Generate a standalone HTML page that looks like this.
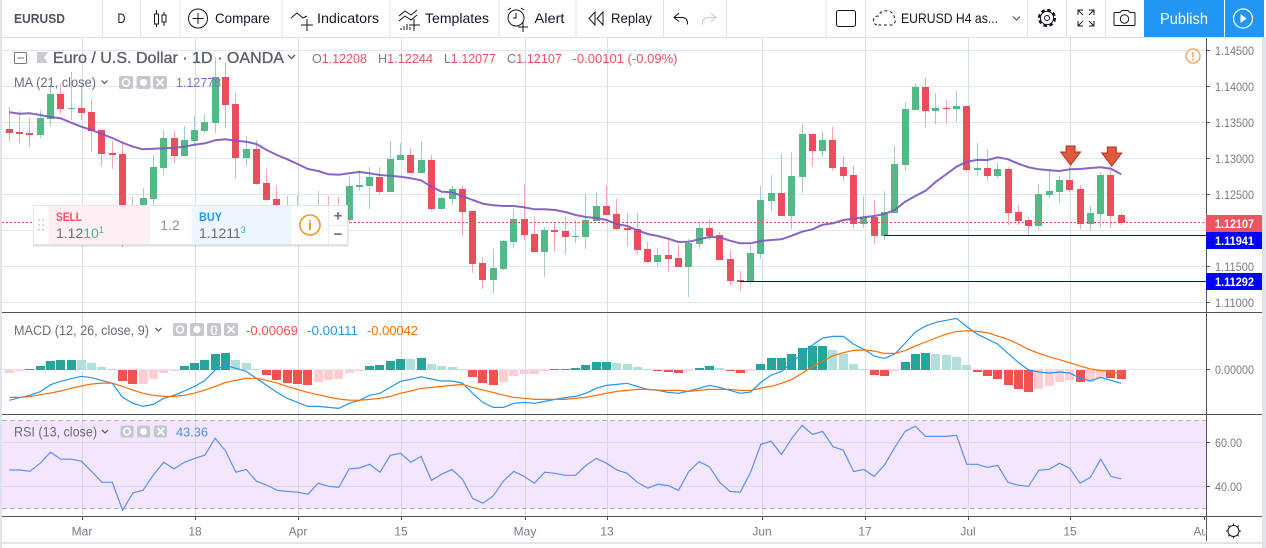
<!DOCTYPE html>
<html lang="en">
<head>
<meta charset="utf-8">
<title>EURUSD chart</title>
<style>
html,body{margin:0;padding:0;background:#fff;width:1266px;height:548px;overflow:hidden}
svg{display:block;font-family:"Liberation Sans",sans-serif}
.tb{font-size:14px;fill:#131722}
.ax{font-size:12px;fill:#787b86}
.lg{font-size:14px;fill:#6a6d78}
.btn{fill:#c4c7cd}
</style>
</head>
<body>
<svg id="chart" width="1266" height="548" viewBox="0 0 1266 548" xmlns="http://www.w3.org/2000/svg">
  <rect x="0" y="0" width="1266" height="548" fill="#fff"/>
  <rect x="2" y="420.5" width="1204" height="88" fill="#f4e6fe"/>
  <g id="grid"></g>
  <g id="candles"></g>
  <g id="levels"></g>
  <g id="maLayer"></g>
  <g id="arrows"></g>
  <g id="macd"></g>
  <g id="rsi"></g>

  <g fill="#50535e">
    <rect x="2" y="312" width="1260" height="1"/>
    <rect x="2" y="414" width="1260" height="1"/>
    <rect x="2" y="516" width="1260" height="1"/>
    <rect x="1206" y="38" width="1" height="503"/>
  </g>
  <g id="axes"></g>

  <!-- outer strips -->
  <rect x="0" y="37" width="2" height="511" fill="#e0e3eb"/>
  <rect x="1262" y="37" width="4" height="511" fill="#e0e3eb"/>
  <rect x="2" y="542" width="1260" height="2" fill="#e0e3eb"/>

  <!-- chart legends -->
  <g>
    <rect x="14.5" y="52.5" width="12" height="11" fill="#fff" stroke="#777" rx="1"/>
    <rect x="17" y="57.5" width="7" height="1" fill="#777"/>
    <path d="M37 52H48L44 57.5L48 63H37Z" fill="#c8cbd1"/>
    <text x="53" y="63" font-size="16" fill="#5d606b" stroke="#5d606b" stroke-width=".35" textLength="231" lengthAdjust="spacingAndGlyphs">Euro / U.S. Dollar · 1D · OANDA</text>
    <path d="M288 55l3.5 3.5L295 55" fill="none" stroke="#50535e" stroke-width="1.3"/>
    <g font-size="13" fill="#ef4f5f">
      <text x="312" y="63" textLength="55" lengthAdjust="spacingAndGlyphs"><tspan fill="#787b86">O</tspan>1.12208</text>
      <text x="378" y="63" textLength="55" lengthAdjust="spacingAndGlyphs"><tspan fill="#787b86">H</tspan>1.12244</text>
      <text x="444" y="63" textLength="52" lengthAdjust="spacingAndGlyphs"><tspan fill="#787b86">L</tspan>1.12077</text>
      <text x="507" y="63" textLength="55" lengthAdjust="spacingAndGlyphs"><tspan fill="#787b86">C</tspan>1.12107</text>
      <text x="572.5" y="63" textLength="105" lengthAdjust="spacingAndGlyphs">-0.00101 (-0.09%)</text>
    </g>
    <text class="lg" x="14" y="87" textLength="82" lengthAdjust="spacingAndGlyphs">MA (21, close)</text>
    <path d="M101.5 80.5l3 3 3-3" fill="none" stroke="#50535e" stroke-width="1.2"/>
    <g><rect class="btn" x="119" y="76" width="14" height="13" rx="2"/><circle cx="126" cy="82.5" r="3.5" fill="none" stroke="#fff" stroke-width="1.6"/></g>
    <g><rect class="btn" x="136.5" y="76" width="14" height="13" rx="2"/><circle cx="143.5" cy="82.5" r="3.6" fill="#fff"/></g>
    <g><rect class="btn" x="153" y="76" width="14" height="13" rx="2"/><path d="M156.5 79l7 7M163.5 79l-7 7" stroke="#fff" stroke-width="1.8"/></g>
    <text x="176" y="87" font-size="13" fill="#8a68cc" textLength="45" lengthAdjust="spacingAndGlyphs">1.12778</text>
  </g>

  <circle cx="1193" cy="56" r="7" fill="#fff" stroke="#f9a66c" stroke-width="1.5"/>
  <text x="1193" y="60.5" font-size="12" font-weight="700" fill="#f9a66c" text-anchor="middle">!</text>

  <g>
    <text class="lg" x="14" y="335" textLength="135" lengthAdjust="spacingAndGlyphs">MACD (12, 26, close, 9)</text>
    <path d="M155.5 328l3 3 3-3" fill="none" stroke="#50535e" stroke-width="1.2"/>
    <g><rect class="btn" x="173" y="323" width="14" height="13" rx="2"/><circle cx="180" cy="329.5" r="3.5" fill="none" stroke="#fff" stroke-width="1.6"/></g>
    <g><rect class="btn" x="190" y="323" width="14" height="13" rx="2"/><circle cx="197" cy="329.5" r="3.6" fill="#fff"/></g>
    <g><rect class="btn" x="207" y="323" width="14" height="13" rx="2"/><text x="214" y="333" font-size="10" font-weight="700" fill="#fff" text-anchor="middle">{}</text></g>
    <g><rect class="btn" x="224" y="323" width="14" height="13" rx="2"/><path d="M227.5 326l7 7M234.5 326l-7 7" stroke="#fff" stroke-width="1.8"/></g>
    <text x="246" y="335" font-size="13" fill="#ef5350" textLength="52" lengthAdjust="spacingAndGlyphs">-0.00069</text>
    <text x="307" y="335" font-size="13" fill="#2196f3" textLength="51" lengthAdjust="spacingAndGlyphs">-0.00111</text>
    <text x="367" y="335" font-size="13" fill="#ff6d00" textLength="51" lengthAdjust="spacingAndGlyphs">-0.00042</text>
  </g>

  <g>
    <text class="lg" x="14" y="436.5" textLength="83" lengthAdjust="spacingAndGlyphs">RSI (13, close)</text>
    <path d="M102 430l3 3 3-3" fill="none" stroke="#50535e" stroke-width="1.2"/>
    <g><rect class="btn" x="120.5" y="425.5" width="13" height="12" rx="2"/><circle cx="127" cy="431.5" r="3.3" fill="none" stroke="#fff" stroke-width="1.6"/></g>
    <g><rect class="btn" x="137" y="425.5" width="13" height="12" rx="2"/><circle cx="143.5" cy="431.5" r="3.4" fill="#fff"/></g>
    <g><rect class="btn" x="154" y="425.5" width="13" height="12" rx="2"/><path d="M157.5 428l6.5 7M164 428l-6.5 7" stroke="#fff" stroke-width="1.8"/></g>
    <text x="176" y="436.5" font-size="13" fill="#4f8ff7" textLength="32" lengthAdjust="spacingAndGlyphs">43.36</text>
  </g>

  <!-- trade widget -->
  <g>
    <rect x="33" y="206.5" width="315.5" height="40" fill="#000" opacity=".13"/>
    <rect x="33.5" y="205.5" width="314" height="39" fill="#fff" stroke="#e4e6ea"/>
    <g fill="#d5d7dc">
      <rect x="38" y="219" width="2" height="2"/><rect x="42" y="219" width="2" height="2"/>
      <rect x="38" y="224" width="2" height="2"/><rect x="42" y="224" width="2" height="2"/>
      <rect x="38" y="229" width="2" height="2"/><rect x="42" y="229" width="2" height="2"/>
    </g>
    <g>
      <rect x="48.5" y="206" width="100" height="38" fill="#fef0f2"/>
      <text x="56" y="221" font-size="12" font-weight="700" fill="#ff4a68" textLength="26" lengthAdjust="spacingAndGlyphs">SELL</text>
      <text x="56" y="238" font-size="14" fill="#6a6d78">1.12<tspan fill="#3bb89a">10</tspan><tspan fill="#3bb89a" font-size="9" dy="-5">1</tspan></text>
    </g>
    <rect x="148.5" y="206" width="1" height="38" fill="#eceef1"/>
    <text x="170" y="230" font-size="14" fill="#8f919a" text-anchor="middle">1.2</text>
    <g>
      <rect x="191.5" y="206" width="100" height="38" fill="#edf6fe"/>
      <text x="199" y="221" font-size="12" font-weight="700" fill="#2196f3" textLength="23" lengthAdjust="spacingAndGlyphs">BUY</text>
      <text x="199" y="238" font-size="14" fill="#6a6d78">1.1211<tspan fill="#3bb89a" font-size="9" dy="-5">3</tspan></text>
    </g>
    <g>
      <circle cx="310" cy="225" r="10" fill="#fff" stroke="#f7931e" stroke-width="1.6"/>
      <text x="310" y="230" font-size="14" font-weight="700" fill="#f7931e" text-anchor="middle">i</text>
    </g>
    <rect x="328" y="206" width="1" height="38" fill="#eceef1"/>
    <rect x="328" y="225" width="19" height="1" fill="#eceef1"/>
    <text x="338" y="220.5" font-size="15" font-weight="700" fill="#6a6d78" text-anchor="middle">+</text>
    <text x="338" y="239" font-size="15" font-weight="700" fill="#6a6d78" text-anchor="middle">−</text>
  </g>

  <!-- toolbar -->
  <g>
    <rect x="0" y="37" width="1266" height="1" fill="#e0e3eb"/>
    <g fill="#e0e3eb">
      <rect x="0" y="0" width="2" height="37"/>
      <rect x="102" y="0" width="1" height="37"/>
      <rect x="140" y="0" width="1" height="37"/>
      <rect x="179.5" y="0" width="1" height="37"/>
      <rect x="281.5" y="0" width="1" height="37"/>
      <rect x="389.5" y="0" width="1" height="37"/>
      <rect x="498.5" y="0" width="1" height="37"/>
      <rect x="575.5" y="0" width="1" height="37"/>
      <rect x="663" y="0" width="1" height="37"/>
      <rect x="726" y="0" width="1" height="37"/>
      <rect x="825.5" y="0" width="1" height="37"/>
      <rect x="865" y="0" width="1" height="37"/>
      <rect x="1027" y="0" width="1" height="37"/>
      <rect x="1066" y="0" width="1" height="37"/>
      <rect x="1105" y="0" width="1" height="37"/>
    </g>
    <text x="14" y="23" font-size="13" font-weight="700" fill="#50535e" textLength="51" lengthAdjust="spacingAndGlyphs">EURUSD</text>
    <text class="tb" x="117.5" y="23" fill="#50535e" textLength="8" lengthAdjust="spacingAndGlyphs">D</text>
    <g fill="#fff" stroke="#131722" stroke-width="1">
      <path d="M156.5 10v17M164 12v14" fill="none"/>
      <rect x="154.5" y="14" width="4" height="10"/>
      <rect x="162" y="15" width="4" height="7"/>
    </g>
    <g>
      <circle cx="198" cy="18.5" r="9.5" fill="none" stroke="#131722"/>
      <path d="M198 13v11M192.5 18.5h11" stroke="#131722" fill="none"/>
      <text class="tb" x="215" y="23" textLength="55" lengthAdjust="spacingAndGlyphs">Compare</text>
    </g>
    <g>
      <path d="M291 18l6-5 6 5 4-2M307 19v12M301 25h12" stroke="#131722" fill="none"/>
      <text class="tb" x="317" y="23" textLength="62" lengthAdjust="spacingAndGlyphs">Indicators</text>
    </g>
    <g>
      <path d="M399 16l6-5 6 4 6-5M399 21l6-5 6 4 6-5M401 30v-2M404 30v-4M407 30v-6M410 30v-3M414 19v12M409 25h11" stroke="#131722" fill="none"/>
      <text class="tb" x="425" y="23" textLength="64" lengthAdjust="spacingAndGlyphs">Templates</text>
    </g>
    <g>
      <circle cx="516" cy="18" r="8" fill="none" stroke="#131722"/>
      <path d="M516 13v5h-3M508 10l3-2M524 10l-3-2M523 22v10M518 27h10" stroke="#131722" fill="none"/>
      <text class="tb" x="534.5" y="23" textLength="30" lengthAdjust="spacingAndGlyphs">Alert</text>
    </g>
    <g>
      <path d="M595 12l-6 6.500 6 6.500zM603 12l-6 6.500 6 6.500z" fill="none" stroke="#131722"/>
      <text class="tb" x="611" y="23" textLength="41" lengthAdjust="spacingAndGlyphs">Replay</text>
    </g>
    <path d="M679 13l-5 4.500 5 4M674 17.500h9q5 1 4.500 7" stroke="#131722" fill="none"/>
    <path d="M711 13l5 4.500-5 4M716 17.500h-9q-5 1-4.500 7" stroke="#c4c7cd" fill="none"/>
    <rect x="836.500" y="10.500" width="19" height="16" rx="2" fill="#fff" stroke="#131722"/>
    <path d="M877 25q-4-1-3.500-5t5-4q2-6 9-5t7 8q1 1 .5 3t-3 3z" fill="none" stroke="#131722" stroke-dasharray="3 2.500"/>
    <text class="tb" x="901" y="23" textLength="97" lengthAdjust="spacingAndGlyphs">EURUSD H4 as...</text>
    <path d="M1013 16.500l3.500 3.500 3.500-3.500" fill="none" stroke="#50535e" stroke-width="1.2"/>
    <g>
      <circle cx="1047" cy="18" r="7.500" fill="none" stroke="#131722" stroke-width="3.200" stroke-dasharray="3.400 2.500"/>
      <circle cx="1047" cy="18" r="6.600" fill="#fff" stroke="#131722"/>
      <circle cx="1047" cy="18" r="2.500" fill="#fff" stroke="#131722"/>
    </g>
    <path d="M1078 15v-5h5M1094 15v-5h-5M1078 21v5h5M1094 21v5h-5M1078 10l5 5M1094 10l-5 5M1078 26l5-5M1094 26l-5-5" fill="none" stroke="#131722"/>
    <g>
      <path d="M1115 12.500h5l2-2h6l2 2h4q1 0 1 1v11q0 1-1 1h-19q-1 0-1-1v-11q0-1 1-1z" fill="none" stroke="#131722"/>
      <circle cx="1124.500" cy="19" r="4.200" fill="none" stroke="#131722"/>
    </g>
    <g>
      <rect x="1144" y="0" width="80" height="37" fill="#2196f3"/>
      <text x="1160" y="24" font-size="16" fill="#fff" textLength="48" lengthAdjust="spacingAndGlyphs">Publish</text>
    </g>
    <g>
      <rect x="1225" y="0" width="39" height="37" fill="#2196f3"/>
      <circle cx="1243" cy="18.500" r="9.500" fill="none" stroke="#fff" stroke-width="1.200"/>
      <path d="M1240.500 14l6 4.500-6 4.500z" fill="#fff"/>
    </g>
  </g>

  <!-- bottom-right settings -->
  <g>
    <circle cx="1233.500" cy="531" r="5.500" fill="none" stroke="#131722"/>
    <path d="M1233.500 523.500v2M1233.500 536.500v2M1226 531h2M1239 531h2M1228.200 525.700l1.400 1.400M1237.400 534.900l1.400 1.400M1238.800 525.700l-1.400 1.400M1229.600 534.900l-1.400 1.400" stroke="#131722" fill="none"/>
  </g>
</svg>

<script>
// ---- price pane data ----
const opens = [
1.13408,1.13366,1.13352,1.13325,1.13547,1.13894,1.13686,1.13700,1.13644,1.13394,
1.13075,1.13061,1.12006,1.12116,1.12436,1.12867,1.13283,1.13033,1.13242,1.13380,
1.13492,1.14131,1.13755,1.13006,1.13131,1.12658,1.12436,1.12269,1.12200,1.12116,
1.12200,1.12283,1.12214,1.12144,1.12603,1.12617,1.12742,1.12533,1.12978,1.13047,
1.12797,1.12978,1.12297,1.12436,1.12575,1.12269,1.11547,1.11311,1.11464,1.11839,
1.12158,1.11950,1.11700,1.12006,1.11992,1.11908,1.11908,1.12130,1.12339,1.12228,
1.12033,1.12019,1.11742,1.11561,1.11658,1.11617,1.11492,1.11811,1.12033,1.11937,
1.11603,1.11311,1.11283,1.11672,1.12408,1.12519,1.12200,1.12742,1.13338,1.13103,
1.13256,1.12881,1.12770,1.12089,1.12186,1.11922,1.12242,1.12908,1.13672,1.13992,
1.13658,1.13700,1.13686,1.13728,1.12839,1.12867,1.12756,1.12853,1.12255,1.12144,
1.12061,1.12492,1.12533,1.12700,1.12575,1.12089,1.12228,1.12770,1.12208];
const highs = [
1.13714,1.13658,1.13561,1.13672,1.14020,1.14033,1.14200,1.14020,1.13825,1.13394,
1.13242,1.13200,1.12464,1.12589,1.13047,1.13394,1.13380,1.13450,1.13589,1.13616,
1.14409,1.14339,1.13908,1.13311,1.13256,1.12853,1.12617,1.12478,1.12492,1.12353,
1.12547,1.12478,1.12464,1.12742,1.12839,1.12881,1.12881,1.13242,1.13214,1.13144,
1.13242,1.13047,1.12478,1.12617,1.12617,1.12269,1.11631,1.11742,1.11867,1.12297,
1.12644,1.12186,1.12047,1.12103,1.12186,1.12144,1.12506,1.12533,1.12631,1.12436,
1.12242,1.12242,1.11839,1.11756,1.11881,1.11797,1.11881,1.12116,1.12158,1.11978,
1.11728,1.11436,1.11797,1.12617,1.12770,1.13061,1.13089,1.13478,1.13338,1.13380,
1.13436,1.13033,1.12895,1.12478,1.12422,1.12547,1.13172,1.13783,1.14047,1.14117,
1.13908,1.13811,1.13936,1.13728,1.13214,1.13117,1.12950,1.12881,1.12353,1.12186,
1.12644,1.12853,1.12756,1.12881,1.12631,1.12339,1.12811,1.12839,1.12244];
const lows = [
1.13242,1.13200,1.13158,1.13283,1.13450,1.13616,1.13533,1.13533,1.13089,1.12895,
1.12853,1.11770,1.11937,1.12061,1.12353,1.12770,1.12936,1.13019,1.13186,1.13352,
1.13352,1.13422,1.12728,1.12895,1.12631,1.12408,1.12200,1.12061,1.11978,1.12033,
1.12075,1.12116,1.12089,1.12089,1.12547,1.12297,1.12506,1.12533,1.12978,1.12797,
1.12783,1.12269,1.12283,1.12353,1.11922,1.11408,1.11186,1.11117,1.11450,1.11756,
1.11867,1.11700,1.11353,1.11700,1.11672,1.11825,1.11742,1.12130,1.12214,1.12006,
1.11784,1.11658,1.11547,1.11506,1.11422,1.11492,1.11075,1.11742,1.11867,1.11589,
1.11242,1.11158,1.11256,1.11603,1.12269,1.12200,1.12019,1.12519,1.12895,1.13019,
1.12825,1.12686,1.12019,1.12033,1.11811,1.11867,1.12242,1.12825,1.13672,1.13436,
1.13478,1.13478,1.13505,1.12811,1.12756,1.12686,1.12728,1.12075,1.12075,1.11937,
1.12019,1.12450,1.12381,1.12533,1.12019,1.11992,1.12047,1.12033,1.12077];
const closes = [
1.13352,1.13338,1.13325,1.13561,1.13894,1.13686,1.13700,1.13630,1.13380,1.13061,
1.13047,1.12006,1.12353,1.12450,1.12881,1.13283,1.13033,1.13256,1.13394,1.13505,
1.14131,1.13742,1.13006,1.13131,1.12644,1.12422,1.12255,1.12186,1.12116,1.12228,
1.12283,1.12200,1.12144,1.12617,1.12631,1.12742,1.12533,1.12992,1.13047,1.12797,
1.12978,1.12297,1.12450,1.12575,1.12255,1.11533,1.11311,1.11478,1.11853,1.12158,
1.11937,1.11700,1.12006,1.11978,1.11908,1.11922,1.12144,1.12339,1.12214,1.12019,
1.12006,1.11728,1.11561,1.11658,1.11603,1.11492,1.11825,1.12033,1.11922,1.11589,
1.11297,1.11283,1.11686,1.12422,1.12519,1.12200,1.12756,1.13338,1.13103,1.13256,
1.12867,1.12756,1.12089,1.12186,1.11922,1.12255,1.12922,1.13686,1.13992,1.13658,
1.13700,1.13686,1.13728,1.12839,1.12867,1.12756,1.12853,1.12242,1.12130,1.12061,
1.12506,1.12547,1.12700,1.12561,1.12089,1.12242,1.12770,1.12200,1.12107];
const maValues = [
1.13640,1.13621,1.13626,1.13603,1.13575,1.13557,1.13496,1.13440,1.13394,1.13338,
1.13283,1.13218,1.13162,1.13126,1.13135,1.13140,1.13149,1.13162,1.13190,1.13210,
1.13251,1.13265,1.13246,1.13232,1.13200,1.13117,1.13047,1.12987,1.12922,1.12853,
1.12825,1.12779,1.12774,1.12793,1.12811,1.12793,1.12769,1.12760,1.12746,1.12724,
1.12696,1.12607,1.12537,1.12529,1.12478,1.12422,1.12371,1.12349,1.12339,1.12339,
1.12321,1.12293,1.12293,1.12283,1.12255,1.12214,1.12186,1.12172,1.12144,1.12089,
1.12061,1.12001,1.11950,1.11922,1.11885,1.11839,1.11843,1.11876,1.11908,1.11904,
1.11857,1.11821,1.11821,1.11853,1.11867,1.11876,1.11926,1.11982,1.12015,1.12079,
1.12099,1.12144,1.12162,1.12182,1.12200,1.12228,1.12283,1.12399,1.12478,1.12551,
1.12676,1.12779,1.12885,1.12954,1.12978,1.12978,1.13015,1.12987,1.12926,1.12876,
1.12849,1.12835,1.12825,1.12849,1.12853,1.12867,1.12876,1.12857,1.12778];

// ---- MACD pane data, in units of 0.00001 ----
const macdHist = [
-24,-10,5,27,64,71,73,72,50,20,
2,-84,-106,-105,-69,-24,-1,27,50,72,
116,124,72,50,2,-39,-76,-99,-106,-113,
-91,-76,-69,-24,-1,27,35,64,80,79,
87,42,27,20,2,-54,-99,-113,-91,-47,
-32,-31,-10,4,5,13,35,57,58,50,
42,20,2,-10,-17,-24,-10,13,27,13,
-10,-24,-10,42,87,88,116,161,176,177,
146,116,42,4,-39,-47,-10,57,116,124,
116,109,94,35,-17,-47,-69,-113,-143,-165,
-143,-121,-91,-76,-92,-91,-62,-63,-69];
const macdLine = [
-227,-207,-190,-163,-111,-86,-67,-49,-59,-79,
-101,-205,-249,-272,-257,-212,-190,-158,-124,-79,
-2,32,10,-12,-64,-116,-168,-212,-242,-272,
-272,-279,-287,-249,-227,-190,-175,-131,-86,-72,
-52,-69,-84,-84,-99,-175,-242,-279,-279,-249,
-242,-249,-235,-220,-207,-198,-175,-138,-116,-109,
-101,-124,-146,-153,-168,-175,-158,-138,-116,-131,
-153,-175,-165,-94,-40,-12,54,121,183,235,
247,247,190,151,101,84,116,195,279,324,
351,366,380,319,264,227,190,121,54,-2,
-17,-25,-17,-25,-64,-82,-57,-79,-101];
const macdSignal = [
-205,-205,-200,-185,-173,-158,-138,-121,-106,-99,
-99,-124,-151,-175,-190,-198,-198,-190,-173,-151,
-124,-94,-79,-64,-64,-79,-99,-124,-146,-168,
-185,-203,-217,-225,-227,-220,-212,-198,-175,-158,
-138,-131,-124,-116,-109,-131,-151,-168,-188,-205,
-212,-220,-220,-220,-220,-212,-205,-190,-175,-161,
-153,-146,-146,-151,-153,-153,-161,-153,-146,-146,
-146,-153,-153,-136,-124,-101,-72,-27,22,64,
104,126,143,146,138,121,121,141,175,205,
235,264,282,289,284,274,249,225,190,151,
121,96,74,52,27,5,-5,-17,-32];

// ---- RSI pane data ----
const rsiValues = [
47.4,47.4,46.8,50.5,55.5,52.3,52.3,51.4,46.7,41.8,
41.8,29.1,37.0,38.2,45.2,50.9,47.9,50.9,52.7,54.2,
61.8,56.1,46.4,47.7,42.3,40.6,38.2,37.7,37.3,36.4,
41.4,40.0,39.5,47.9,48.3,50.0,46.4,54.1,55.0,50.9,
53.6,42.7,45.5,47.7,43.3,34.5,32.3,35.6,42.4,46.8,
44.5,41.4,46.4,45.9,45.0,45.0,49.5,52.7,50.5,47.4,
45.9,41.8,39.2,40.9,40.3,38.2,46.7,51.2,48.9,41.8,
37.7,37.3,46.4,59.1,60.5,54.5,61.8,67.7,63.6,65.0,
58.0,56.4,46.7,47.7,44.5,49.7,57.7,65.0,67.3,62.7,
62.7,62.7,63.2,50.0,50.0,48.6,49.5,41.8,40.5,40.0,
47.3,47.7,50.5,48.2,41.4,44.1,52.3,44.5,43.36];

// ---- axes and annotations ----
const priceTicks = [1.145,1.14,1.135,1.13,1.125,1.12,1.115,1.11];
const rsiTicks = [60,40];
const rsiBands = [70,30];
const macdTicks = [0];
const timeTickIndex = [7,18,28,38,50,58,73,83,93,103,116];
const timeTickLabels = ["Mar","18","Apr","15","May","13","Jun","17","Jul","15","Aug"];
const levelPrices = [1.11941,1.11292];
const levelStartIndex = [85,71];
const currentPrice = 1.12107;
const arrowIndex = [103,107];
const arrowTipPrices = [1.12908,1.12894];

// ---- scales ----
const NS = "http://www.w3.org/2000/svg";
const xOf = i => 9.3 + 10.296 * i;
const yPrice = p => (1.152 - p) * 7200;
const yMacd = v => 369.7 - v * 0.135;
const yRsi = r => 442.3 + (60 - r) * 2.2;

function svgEl(tag, parent, attrs) {
  const e = document.createElementNS(NS, tag);
  for (const k in attrs) e.setAttribute(k, attrs[k]);
  parent.appendChild(e);
  return e;
}
const pts = (arr, yf) => arr.map((v, i) => xOf(i).toFixed(1) + "," + yf(v).toFixed(1)).join(" ");

// grid
const grid = document.getElementById("grid");
timeTickIndex.forEach((idx, k) => {
  if (xOf(idx) > 1200) return;
  const v = svgEl("rect", grid, {x: Math.round(xOf(idx) + .7), y: 38, width: 1, height: 478, fill: "rgba(185,205,225,.62)"});
  
  
});
priceTicks.forEach(p => {
  const h = svgEl("rect", grid, {x: 2, y: Math.floor(yPrice(p)), width: 1204, height: 1, fill: "#dfe8ef"});
  
  
});
rsiTicks.forEach(r => {
  const h = svgEl("rect", grid, {x: 2, y: Math.floor(yRsi(r)), width: 1204, height: 1, fill: "#ded5ef"});
  
  
});
rsiBands.forEach(r => {
  const l = svgEl("line", grid, {x1: 2, x2: 1206, y1: Math.floor(yRsi(r)) + .5, y2: Math.floor(yRsi(r)) + .5, stroke: "#b9a9c4", "stroke-dasharray": "5 3"});
  
  
});

// candles
const candleLayer = document.getElementById("candles");
closes.forEach((c, i) => {
  const o = opens[i], up = c >= o;
  const left = Math.round(xOf(i) - 3.5);
  const top = Math.round(yPrice(Math.max(o, c)));
  const bot = Math.max(top + 1, Math.round(yPrice(Math.min(o, c))));
  const wt = Math.round(yPrice(highs[i])), wb = Math.round(yPrice(lows[i]));
  const g = svgEl("g", candleLayer, {});
  
  
  const wick = svgEl("rect", g, {x: left + 3, y: wt, width: 1, height: Math.max(1, wb - wt), fill: up ? "#a5cdcd" : "#f6a6b2"});
  
  
  const body = svgEl("rect", g, {x: left, y: top, width: 7, height: bot - top, fill: up ? "#53b987" : "#eb4d5c"});
  
  
});

// current price + horizontal levels
const levels = document.getElementById("levels");
const cur = svgEl("line", levels, {x1: 2, x2: 1206, y1: Math.floor(yPrice(currentPrice)) + .5, y2: Math.floor(yPrice(currentPrice)) + .5, stroke: "#eb4d5c", "stroke-dasharray": "2 2"});


levelPrices.forEach((p, k) => {
  const l = svgEl("rect", levels, {x: Math.round(xOf(levelStartIndex[k])), y: Math.round(yPrice(p)), width: 1206 - Math.round(xOf(levelStartIndex[k])), height: 1, fill: "#0000c8"});
  
  
});

// moving average
const ma = svgEl("polyline", document.getElementById("maLayer"), {points: pts(maValues, yPrice), fill: "none", stroke: "#7e57c2", "stroke-width": 2, "stroke-linejoin": "round", opacity: .92});



// arrows
const arrowsG = document.getElementById("arrows");
arrowIndex.forEach((idx, k) => {
  const cx = xOf(idx) + .8, t = yPrice(arrowTipPrices[k]);
  const d = `M${cx - 4.5} ${t - 19}h9v6h5.500L${cx} ${t}L${cx - 10} ${t - 13}h5.500z`;
  const a = svgEl("path", arrowsG, {d, fill: "#dd5a3f", stroke: "#b8321c", "stroke-width": 1});
  
  
});

// MACD pane
const macdG = document.getElementById("macd");
const zero = svgEl("rect", macdG, {x: 2, y: 369, width: 1204, height: 1, fill: "#e0e6ee"});


macdHist.forEach((v, i) => {
  const rising = i === 0 || v >= macdHist[i - 1];
  const col = v >= 0 ? (rising ? "#26a69a" : "#b2dfdb") : (rising ? "#ffcdd2" : "#ef5350");
  const y0 = Math.round(yMacd(0)), y1 = Math.round(yMacd(v));
  const b = svgEl("rect", macdG, {x: Math.round(xOf(i) - 4.5), y: Math.min(y0, y1), width: 9, height: Math.max(1, Math.abs(y1 - y0)), fill: col});
  
  
});
const macdPoly = svgEl("polyline", macdG, {points: pts(macdLine, yMacd), fill: "none", stroke: "#2196f3", "stroke-width": 1.2});


const sigPoly = svgEl("polyline", macdG, {points: pts(macdSignal, yMacd), fill: "none", stroke: "#ff6d00", "stroke-width": 1.2});



// RSI pane
const rsiPoly = svgEl("polyline", document.getElementById("rsi"), {points: pts(rsiValues, yRsi), fill: "none", stroke: "#5b8ff9", "stroke-width": 1.2});



// axes
const axes = document.getElementById("axes");
function axisLabel(txt, x, y, anchor) {
  const t = svgEl("text", axes, {class: "ax", x, y, "text-anchor": anchor || "start"});
  t.textContent = txt;
  return t;
}
function tick(x, y, w, h) {
  return svgEl("rect", axes, {x, y, width: w, height: h, fill: "#50535e"});
}
priceTicks.forEach(p => {
  const y = Math.floor(yPrice(p));
  const tk = tick(1206, y, 4, 1);
  
  
  const lb = axisLabel(p.toFixed(5), 1215, y + 5);
  lb.setAttribute('textLength', '39');
  lb.setAttribute('lengthAdjust', 'spacingAndGlyphs');
  
  
});
macdTicks.forEach(v => {
  const tk = tick(1206, Math.floor(yMacd(v)), 4, 1);
  
  
  const lb = axisLabel(v.toFixed(5), 1215, Math.floor(yMacd(v)) + 5);
  lb.setAttribute('textLength', '39');
  lb.setAttribute('lengthAdjust', 'spacingAndGlyphs');
  
  
});
rsiTicks.forEach(r => {
  const y = Math.floor(yRsi(r));
  const tk = tick(1206, y, 4, 1);
  
  
  const lb = axisLabel(r.toFixed(2), 1215, y + 5);
  lb.setAttribute('textLength', '27');
  lb.setAttribute('lengthAdjust', 'spacingAndGlyphs');
  
  
});
timeTickIndex.forEach((idx, k) => {
  const x = Math.round(xOf(idx) + .7);
  const tk = tick(x, 516, 1, 4);
  
  
  const lb = axisLabel(timeTickLabels[k], x, 535.5, "middle");
  
  
});
// mask clipped "Aug" label past the price axis
const axisMask = svgEl("rect", axes, {x: 1207, y: 517, width: 55, height: 24, fill: "#fff"});



// price tags
function priceTag(price, bg, yTop, h) {
  const g = svgEl("g", axes, {});
  
  
  const r = svgEl("rect", g, {x: 1206, y: yTop, width: 56, height: h, fill: bg});
  
  
  const t = svgEl("text", g, {x: 1215, y: yTop + h / 2 + 4.3, "font-size": 12, "font-weight": 700, fill: "#fff", textLength: 39, lengthAdjust: "spacingAndGlyphs"});
  t.textContent = price.toFixed(5);
  
  
}
priceTag(currentPrice, "#ef5361", Math.round(yPrice(currentPrice)) - 8, 17);
priceTag(levelPrices[0], "#0000ff", Math.round(yPrice(levelPrices[0])) - 3, 17);
priceTag(levelPrices[1], "#0000ff", Math.round(yPrice(levelPrices[1])) - 8, 17);
</script>
</body>
</html>
